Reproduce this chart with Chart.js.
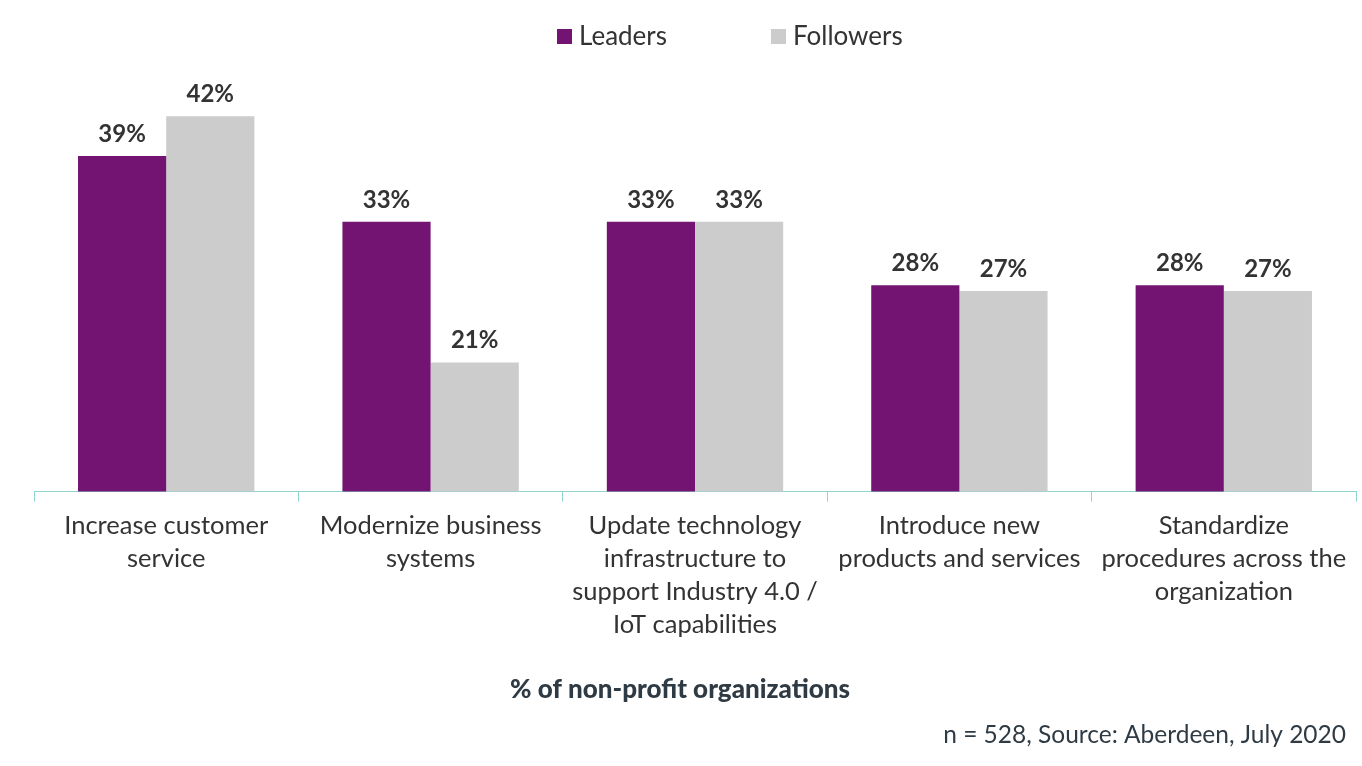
<!DOCTYPE html>
<html>
<head>
<meta charset="utf-8">
<script src="https://cdn.jsdelivr.net/npm/chart.js@4.4.0/dist/chart.umd.min.js"></script>
<style>
  html, body { margin: 0; padding: 0; background: #ffffff; }
  #wrap { width: 1362px; height: 766px; position: relative; }
</style>
</head>
<body>
<div id="wrap"><canvas id="myChart" width="1362" height="766"></canvas></div>
<script>
// chart data
const categories = [
    ["Increase customer", "service"],
    ["Modernize business", "systems"],
    ["Update technology", "infrastructure to", "support Industry 4.0 /", "IoT capabilities"],
    ["Introduce new", "products and services"],
    ["Standardize", "procedures across the", "organization"]
];
const leaders = [38.6, 33, 33, 27.6, 27.6];
const followers = [42, 21, 33, 27.1, 27.1];
const seriesNames = ["Leaders", "Followers"];
const axisTitle = "% of non-profit organizations";
const sourceNote = "n = 528, Source: Aberdeen, July 2020";

const purple = "#731472";
const grey = "#cccccc";
const textColor = "#333333";
const slate = "#2f3b44";
const axisColor = "#8fd4cf";

// value labels over bars
const barLabels = {
    id: 'barLabels',
    afterDatasetsDraw(chart) {
        const ctx = chart.ctx;
        ctx.save();
        ctx.font = "bold 24px Lato";
        ctx.fillStyle = textColor;
        ctx.textAlign = "center";
        ctx.textBaseline = "middle";
        chart.data.datasets.forEach(function(ds, i) {
            const meta = chart.getDatasetMeta(i);
            meta.data.forEach(function(bar, j) {
                ctx.fillText(Math.round(ds.data[j]) + "%", bar.x, bar.y - 22);
            });
        });
        ctx.restore();
    }
};

// legend at top, axis title and source line at bottom
const extras = {
    id: 'extras',
    afterDraw(chart) {
        const ctx = chart.ctx;
        ctx.save();
        ctx.font = "26px Lato";
        ctx.textBaseline = "middle";
        ctx.textAlign = "left";
        let x = 557;
        const y = 37;
        chart.data.datasets.forEach(function(ds) {
            ctx.fillStyle = ds.backgroundColor;
            ctx.fillRect(x, y - 8, 15, 15);
            ctx.fillStyle = textColor;
            ctx.fillText(ds.label, x + 22, y);
            x += 22 + ctx.measureText(ds.label).width + 104;
        });

        ctx.font = "900 26px Lato";
        ctx.fillStyle = slate;
        ctx.textAlign = "center";
        ctx.fillText(axisTitle, 680, 690);

        ctx.font = "24.5px Lato";
        ctx.textAlign = "right";
        ctx.fillText(sourceNote, 1346, 735);
        ctx.restore();
    }
};

var ctx = document.getElementById('myChart').getContext("2d");

window.myChart = new Chart(ctx, {
    type: 'bar',
    data: {
        labels: categories,
        datasets: [
            {
                label: seriesNames[0],
                data: leaders,
                backgroundColor: purple,
                categoryPercentage: 0.667,
                barPercentage: 1.0
            },
            {
                label: seriesNames[1],
                data: followers,
                backgroundColor: grey,
                categoryPercentage: 0.667,
                barPercentage: 1.0
            }
        ]
    },
    options: {
        responsive: false,
        animation: false,
        layout: {
            padding: { top: 81, left: 34, right: 6, bottom: 116.4 }
        },
        plugins: {
            legend: { display: false },
            tooltip: { enabled: false }
        },
        scales: {
            y: {
                display: false,
                min: 10,
                max: 45
            },
            x: {
                grid: {
                    drawOnChartArea: false,
                    drawTicks: true,
                    tickLength: 10,
                    color: axisColor,
                    offset: true
                },
                border: { color: axisColor, width: 1 },
                ticks: {
                    autoSkip: false,
                    maxRotation: 0,
                    minRotation: 0,
                    padding: 8,
                    color: textColor,
                    font: { family: "Lato", size: 25.5, lineHeight: 1.294 }
                }
            }
        }
    },
    plugins: [barLabels, extras]
});
</script>
</body>
</html>
